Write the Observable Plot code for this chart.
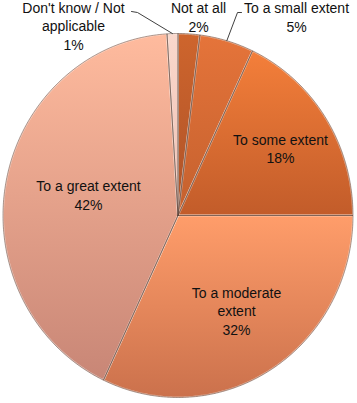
<!DOCTYPE html>
<html><head><meta charset="utf-8">
<script src="https://cdn.jsdelivr.net/npm/d3@7"></script>
<script src="https://cdn.jsdelivr.net/npm/@observablehq/plot@0.6"></script>
<style>
html,body{margin:0;padding:0;background:#fff;}
#chart svg{display:block;}
</style></head><body><div id="chart"></div>
<script>
// ---- data ----
const categories = ["Not at all", "To a small extent", "To some extent", "To a moderate extent", "To a great extent", "Don't know / Not applicable"];
const values = [2, 5, 18, 32, 42, 1];
const labelTexts = ["Not at all\n2%", "To a small extent\n5%", "To some extent\n18%", "To a moderate\nextent\n32%", "To a great extent\n42%", "Don't know / Not\napplicable\n1%"];
const topColors = ["#CE652D", "#E5743A", "#F47F3A", "#FF9D6A", "#FFBB9E", "#FAD8CC"];
const bottomColors = ["#AE5228", "#C4602E", "#C25C2A", "#CB714C", "#C88676", "#EEC0B2"];

// ---- layout ----
const W = 357, H = 403, cx = 177.5, cy = 215, rx = 175, ry = 182;
const labelPx = [[198, 16], [296, 16], [280, 147.5], [236, 310], [88, 194], [73, 25]];
const leaderStart = {5: [[131, 11], [137, 12]], 1: [[241, 12], [237, 12]]};
const toData = ([px, py]) => ({x: (px - cx) / rx, y: (cy - py) / ry});

const total = d3.sum(values);
let acc = 0;
const slices = categories.map((c, i) => {
  const a0 = acc / total * 2 * Math.PI; acc += values[i];
  const a1 = acc / total * 2 * Math.PI;
  return {c, i, a0, a1, mid: (a0 + a1) / 2};
});
function slicePoints(s) {
  const pts = [{x: 0, y: 0}];
  const n = Math.max(4, Math.ceil((s.a1 - s.a0) / (Math.PI / 360)));
  for (let k = 0; k <= n; k++) {
    const a = s.a0 + (s.a1 - s.a0) * k / n;
    pts.push({x: Math.sin(a), y: Math.cos(a)});
  }
  pts.push({x: 0, y: 0});
  return pts;
}

const defsMark = () => {
  const defs = d3.create("svg:defs");
  slices.forEach((s, i) => {
    const g = defs.append("linearGradient").attr("id", "g" + i)
      .attr("x1", 0).attr("y1", 0).attr("x2", 0).attr("y2", 1);
    g.append("stop").attr("offset", "0%").attr("stop-color", topColors[i]);
    g.append("stop").attr("offset", "100%").attr("stop-color", bottomColors[i]);
  });
  return defs.node();
};

const marks = [defsMark];
slices.forEach((s, i) => {
  const pts = slicePoints(s);
  marks.push(Plot.line(pts, {x: "x", y: "y", fill: `url(#g${i})`, stroke: "#ffffff", strokeOpacity: 0.45, strokeWidth: 2, curve: "linear"}));
});
slices.forEach((s, i) => {
  const pts = slicePoints(s);
  marks.push(Plot.line(pts, {x: "x", y: "y", stroke: "#5e4438", strokeOpacity: 0.75, strokeWidth: 0.7, curve: "linear"}));
});
// leader lines
Object.entries(leaderStart).forEach(([k, starts]) => {
  const s = slices[+k];
  const pts = starts.map(toData).concat([{x: Math.sin(s.mid), y: Math.cos(s.mid)}]);
  marks.push(Plot.line(pts, {x: "x", y: "y", stroke: "#404040", strokeWidth: 1}));
});
const labels = slices.map((s, i) => ({...toData(labelPx[i]), t: labelTexts[i]}));
marks.push(Plot.text(labels, {x: "x", y: "y", text: "t", fill: "#111", fontSize: 14, lineHeight: 1.31, textAnchor: "middle"}));

const chart = Plot.plot({
  width: W, height: H,
  marginLeft: cx - rx, marginRight: W - (cx + rx), marginTop: cy - ry, marginBottom: H - (cy + ry),
  x: {domain: [-1, 1], axis: null},
  y: {domain: [-1, 1], axis: null},
  style: {fontFamily: "'Liberation Sans', Arial, sans-serif", background: "#fff", overflow: "visible"},
  marks
});
document.getElementById("chart").appendChild(chart);
</script>
</body></html>
